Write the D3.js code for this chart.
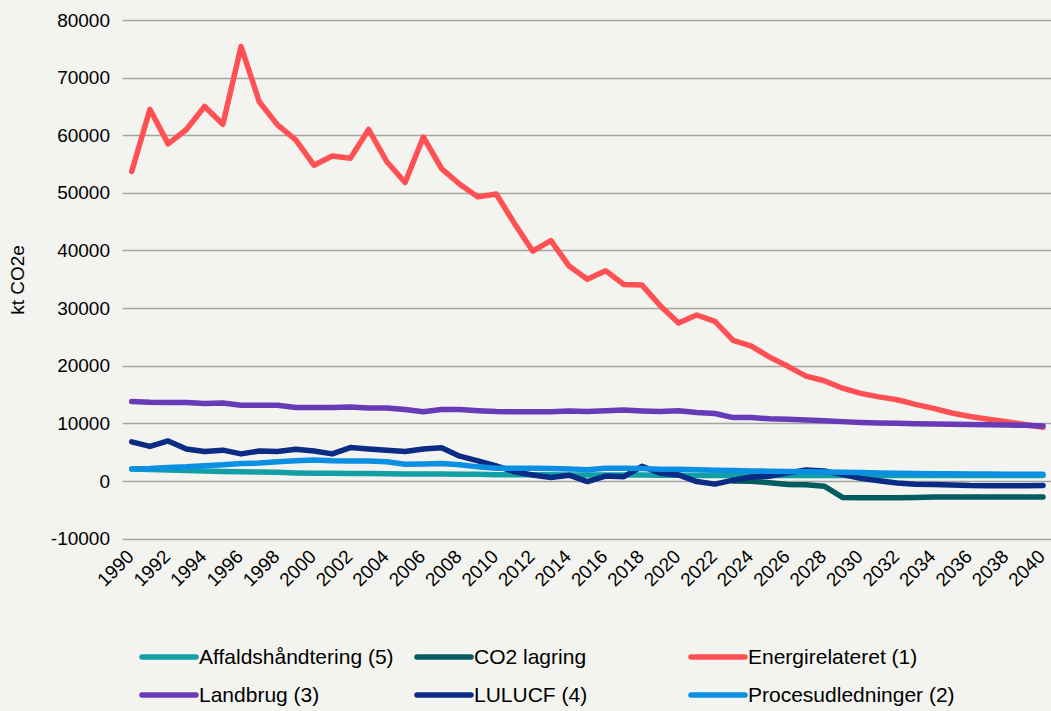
<!DOCTYPE html>
<html>
<head>
<meta charset="utf-8">
<script src="https://cdn.jsdelivr.net/npm/d3@7"></script>
<style>
  html, body { margin: 0; padding: 0; background: #f3f3ef; }
  svg { display: block; }
  text { font-family: "Liberation Sans", Arial, sans-serif; fill: #000; }
</style>
</head>
<body>
<svg id="chart" width="1051" height="711"></svg>
<script>
// Categories: years on the x axis
const years = [1990,1991,1992,1993,1994,1995,1996,1997,1998,1999,
               2000,2001,2002,2003,2004,2005,2006,2007,2008,2009,
               2010,2011,2012,2013,2014,2015,2016,2017,2018,2019,
               2020,2021,2022,2023,2024,2025,2026,2027,2028,2029,
               2030,2031,2032,2033,2034,2035,2036,2037,2038,2039,2040];

// Labelled years (every second year)
const xTickLabels = ["1990","1992","1994","1996","1998","2000","2002","2004","2006","2008",
                     "2010","2012","2014","2016","2018","2020","2022","2024","2026","2028",
                     "2030","2032","2034","2036","2038","2040"];

const yTicks = [-10000,0,10000,20000,30000,40000,50000,60000,70000,80000];

// Emissions by sector, kt CO2e
const affaldshaandtering = [2100,2000,1900,1800,1750,1650,1600,1550,1500,1400,
                            1350,1350,1300,1300,1250,1200,1200,1200,1150,1150,
                            1100,1100,1100,1100,1050,1050,1050,1050,1050,1000,
                            1000,950,950,950,950,950,950,950,950,950,
                            950,950,950,950,950,950,950,950,950,950,950];

const co2Lagring = [null,null,null,null,null,null,null,null,null,null,
                    null,null,null,null,null,null,null,null,null,null,
                    null,null,null,null,null,null,null,null,null,null,
                    null,null,null,0,-50,-300,-600,-650,-900,-2850,
                    -2900,-2900,-2900,-2850,-2800,-2800,-2800,-2800,-2800,-2800,-2800];

const energirelateret = [53700,64500,58500,61000,65000,61900,75400,65800,61800,59200,
                         54800,56400,56000,61000,55400,51800,59700,54200,51500,49300,
                         49800,44700,39900,41700,37300,35000,36500,34100,34000,30400,
                         27400,28800,27700,24400,23400,21500,19900,18200,17400,16100,
                         15200,14600,14100,13300,12600,11800,11200,10700,10300,9800,9300];

const landbrug = [13800,13650,13600,13600,13450,13550,13150,13150,13150,12750,
                  12750,12750,12850,12650,12650,12400,12000,12400,12400,12200,
                  12050,12000,12000,12000,12150,12050,12200,12300,12150,12050,
                  12200,11900,11700,11000,11000,10800,10700,10600,10450,10300,
                  10150,10050,10000,9950,9900,9850,9800,9750,9700,9650,9550];

const lulucf = [6800,6000,6950,5550,5100,5350,4700,5200,5100,5500,
                5200,4700,5800,5550,5350,5100,5550,5750,4300,3500,
                2600,1600,1050,600,1000,-100,850,750,2550,1350,
                1050,-100,-550,150,700,800,1400,1900,1750,1100,
                450,50,-350,-550,-600,-700,-800,-830,-830,-820,-800];

const procesudledninger = [2100,2150,2350,2450,2650,2800,3050,3100,3350,3500,
                           3650,3500,3450,3450,3350,2900,2950,3050,2800,2450,
                           2200,2200,2200,2150,2100,1950,2200,2200,2150,2050,
                           2050,1950,1850,1800,1750,1700,1650,1600,1550,1500,
                           1450,1400,1350,1300,1250,1250,1200,1200,1150,1150,1150];

const seriesNames = ["Affaldshåndtering (5)","CO2 lagring","Energirelateret (1)",
                     "Landbrug (3)","LULUCF (4)","Procesudledninger (2)"];
const seriesColors = ["#12a0a6","#035c60","#ff5153","#673ab7","#0b2c84","#0a90e3"];
const seriesValues = [affaldshaandtering, co2Lagring, energirelateret,
                      landbrug, lulucf, procesudledninger];

const svg = d3.select("#chart");
const W = 1051, H = 711;
svg.append("rect").attr("width", W).attr("height", H).attr("fill", "#f3f3ef");

const x = d3.scalePoint()
  .domain(years)
  .range([122.6, 1052.1])
  .padding(0.5);

const y = d3.scaleLinear()
  .domain([-10000, 80000])
  .range([538.6, 20]);

// Horizontal gridlines
svg.append("g")
  .selectAll("line")
  .data(yTicks)
  .join("line")
  .attr("x1", 122.6)
  .attr("x2", 1052)
  .attr("y1", d => Math.round(y(d)) + 0.5)
  .attr("y2", d => Math.round(y(d)) + 0.5)
  .attr("stroke", "#a3a3a3")
  .attr("stroke-width", 1.3);

// Y axis labels (plain hyphen for negatives)
const yAxis = d3.axisLeft(y)
  .tickValues(yTicks)
  .tickFormat(d => String(d))
  .tickSize(0)
  .tickPadding(0);
const yAxisG = svg.append("g")
  .attr("transform", "translate(110,0)")
  .call(yAxis);
yAxisG.select(".domain").remove();
yAxisG.selectAll("text")
  .attr("font-size", 19)
  .attr("font-family", "Liberation Sans, Arial, sans-serif")
  .attr("fill", "#000");

// Y axis title
svg.append("text")
  .attr("transform", "translate(24,280) rotate(-90)")
  .attr("text-anchor", "middle")
  .attr("font-size", 19)
  .text("kt CO2e");

// X axis labels, rotated 45 degrees and ending at the tick
const xAxis = d3.axisBottom(x)
  .tickValues(xTickLabels.map(Number))
  .tickSize(0)
  .tickPadding(0);
const xAxisG = svg.append("g")
  .attr("transform", "translate(0,549)")
  .call(xAxis);
xAxisG.select(".domain").remove();
xAxisG.selectAll("text")
  .attr("font-size", 19)
  .attr("font-family", "Liberation Sans, Arial, sans-serif")
  .attr("fill", "#000")
  .attr("text-anchor", "end")
  .attr("y", 0)
  .attr("dy", "0.35em")
  .attr("transform", "translate(-2,4) rotate(-45)");

// Series lines
const line = d3.line()
  .defined(d => d.v !== null)
  .x(d => x(d.year))
  .y(d => y(d.v));

const plot = svg.append("g");
seriesValues.forEach((vals, i) => {
  const pts = years.map((yr, j) => ({ year: yr, v: vals[j] }));
  plot.append("path")
    .datum(pts)
    .attr("d", line)
    .attr("fill", "none")
    .attr("stroke", seriesColors[i])
    .attr("stroke-width", 5.5)
    .attr("stroke-linecap", "round")
    .attr("stroke-linejoin", "round");
});

// Legend: two rows of three
const legendCols = [142, 417, 691];
const legendRows = [657, 695];
const legend = svg.append("g");
seriesNames.forEach((name, i) => {
  const cx = legendCols[i % 3];
  const cy = legendRows[Math.floor(i / 3)];
  legend.append("line")
    .attr("x1", cx).attr("x2", cx + 54)
    .attr("y1", cy).attr("y2", cy)
    .attr("stroke", seriesColors[i])
    .attr("stroke-width", 5.5)
    .attr("stroke-linecap", "round");
  legend.append("text")
    .attr("x", cx + 57)
    .attr("y", cy)
    .attr("dy", "0.35em")
    .attr("font-size", 21)
    .text(name);
});
</script>
</body>
</html>
